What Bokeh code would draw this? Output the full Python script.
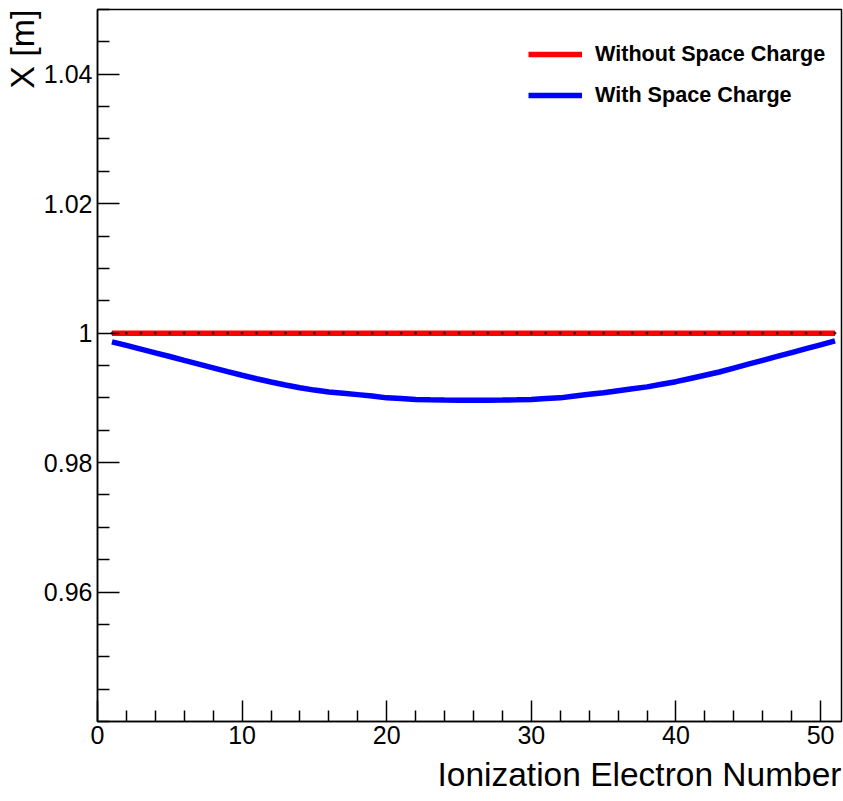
from bokeh.plotting import figure
from bokeh.models import (Range1d, FixedTicker, Legend, LegendItem, Title,
                          CustomJSTickFormatter, ColumnDataSource)
from bokeh.embed import file_html
from bokeh.resources import INLINE

# ---------------- data ----------------
electron_number = list(range(1, 52))
x_without_sc = [1.0] * 51
x_with_sc = [
    0.99866, 0.99810, 0.99753, 0.99696, 0.99639, 0.99580, 0.99522, 0.99464, 0.99406, 0.99350,
    0.99296, 0.99245, 0.99198, 0.99157, 0.99120, 0.99090, 0.99070, 0.99050, 0.99030, 0.99000,
    0.98990, 0.98975, 0.98970, 0.98967, 0.98965, 0.98965, 0.98965, 0.98967, 0.98970, 0.98975,
    0.98990, 0.99000, 0.99030, 0.99055, 0.99080, 0.99110, 0.99140, 0.99170, 0.99210, 0.99250,
    0.99300, 0.99350, 0.99400, 0.99460, 0.99520, 0.99580, 0.99640, 0.99700, 0.99760, 0.99820,
    0.99880,
]
series_labels = ["Without Space Charge", "With Space Charge"]
x_title = "Ionization Electron Number"
y_title = "X [m]"

x_major_ticks = [0, 10, 20, 30, 40, 50]
x_minor_ticks = [2, 4, 6, 8, 12, 14, 16, 18, 22, 24, 26, 28, 32, 34, 36, 38, 42, 44, 46, 48, 52]
y_major_ticks = [0.96, 0.98, 1.0, 1.02, 1.04]
y_minor_ticks = [0.94, 0.945, 0.95, 0.955, 0.965, 0.97, 0.975, 0.985, 0.99, 0.995,
                 1.005, 1.01, 1.015, 1.025, 1.03, 1.035, 1.045, 1.05]

X_MAX = 51.45
FONT = "Liberation Sans"

src = ColumnDataSource(dict(n=electron_number, wo=x_without_sc, w=x_with_sc))

p = figure(width=843, height=801, output_backend="svg", toolbar_location=None,
           x_range=Range1d(0, X_MAX), y_range=Range1d(0.94, 1.05),
           min_border_left=97, min_border_right=2, min_border_top=9, min_border_bottom=80)
p.background_fill_color = "white"
p.border_fill_color = "white"
p.outline_line_color = "black"
p.outline_line_width = 1.5
p.xgrid.visible = False
p.ygrid.visible = False

r_red = p.line("n", "wo", source=src, line_color="#ff0000", line_width=5.5)
p.scatter("n", "wo", source=src, size=2, color="#222222", marker="circle")
r_blue = p.line("n", "w", source=src, line_color="#0000ff", line_width=5.5)

# axes
for ax in (p.xaxis[0], p.yaxis[0]):
    ax.axis_line_color = "black"
    ax.axis_line_width = 1.5
    ax.major_tick_line_color = "black"
    ax.minor_tick_line_color = "black"
    ax.major_tick_line_width = 1.5
    ax.minor_tick_line_width = 1.5
    ax.major_tick_out = 0
    ax.minor_tick_out = 0
    ax.major_label_text_font = FONT
    ax.major_label_text_font_size = "25px"
    ax.major_label_text_color = "black"
    ax.major_label_standoff = 5

p.xaxis[0].ticker = FixedTicker(ticks=x_major_ticks, minor_ticks=x_minor_ticks)
p.xaxis[0].major_tick_in = 21
p.xaxis[0].minor_tick_in = 11
p.xaxis[0].major_label_standoff = 4
p.yaxis[0].ticker = FixedTicker(ticks=y_major_ticks, minor_ticks=y_minor_ticks)
p.yaxis[0].major_tick_in = 22
p.yaxis[0].minor_tick_in = 12
p.yaxis[0].formatter = CustomJSTickFormatter(
    code="var s = tick.toFixed(2); s = s.replace(/0+$/, ''); return s.replace(/\\.$/, '');")

# titles
tx = Title(text=x_title, align="right", text_font=FONT, text_font_size="33.5px",
           text_font_style="normal", text_color="black", standoff=15, offset=0)
p.add_layout(tx, "below")
ty = Title(text=y_title, align="right", text_font=FONT, text_font_size="34px",
           text_font_style="normal", text_color="black", standoff=0, offset=0)
p.add_layout(ty, "left")

# legend
legend = Legend(items=[LegendItem(label=series_labels[0], renderers=[r_red]),
                       LegendItem(label=series_labels[1], renderers=[r_blue])],
                location=(431, 613), padding=0, margin=0,
                border_line_alpha=0, background_fill_alpha=0,
                glyph_width=54, glyph_height=20, label_height=20, spacing=15,
                label_standoff=13, label_text_font=FONT, label_text_font_style="bold",
                label_text_font_size="21.6px", label_text_color="black")
p.add_layout(legend)

open("out.html", "w").write(file_html(p, INLINE))
